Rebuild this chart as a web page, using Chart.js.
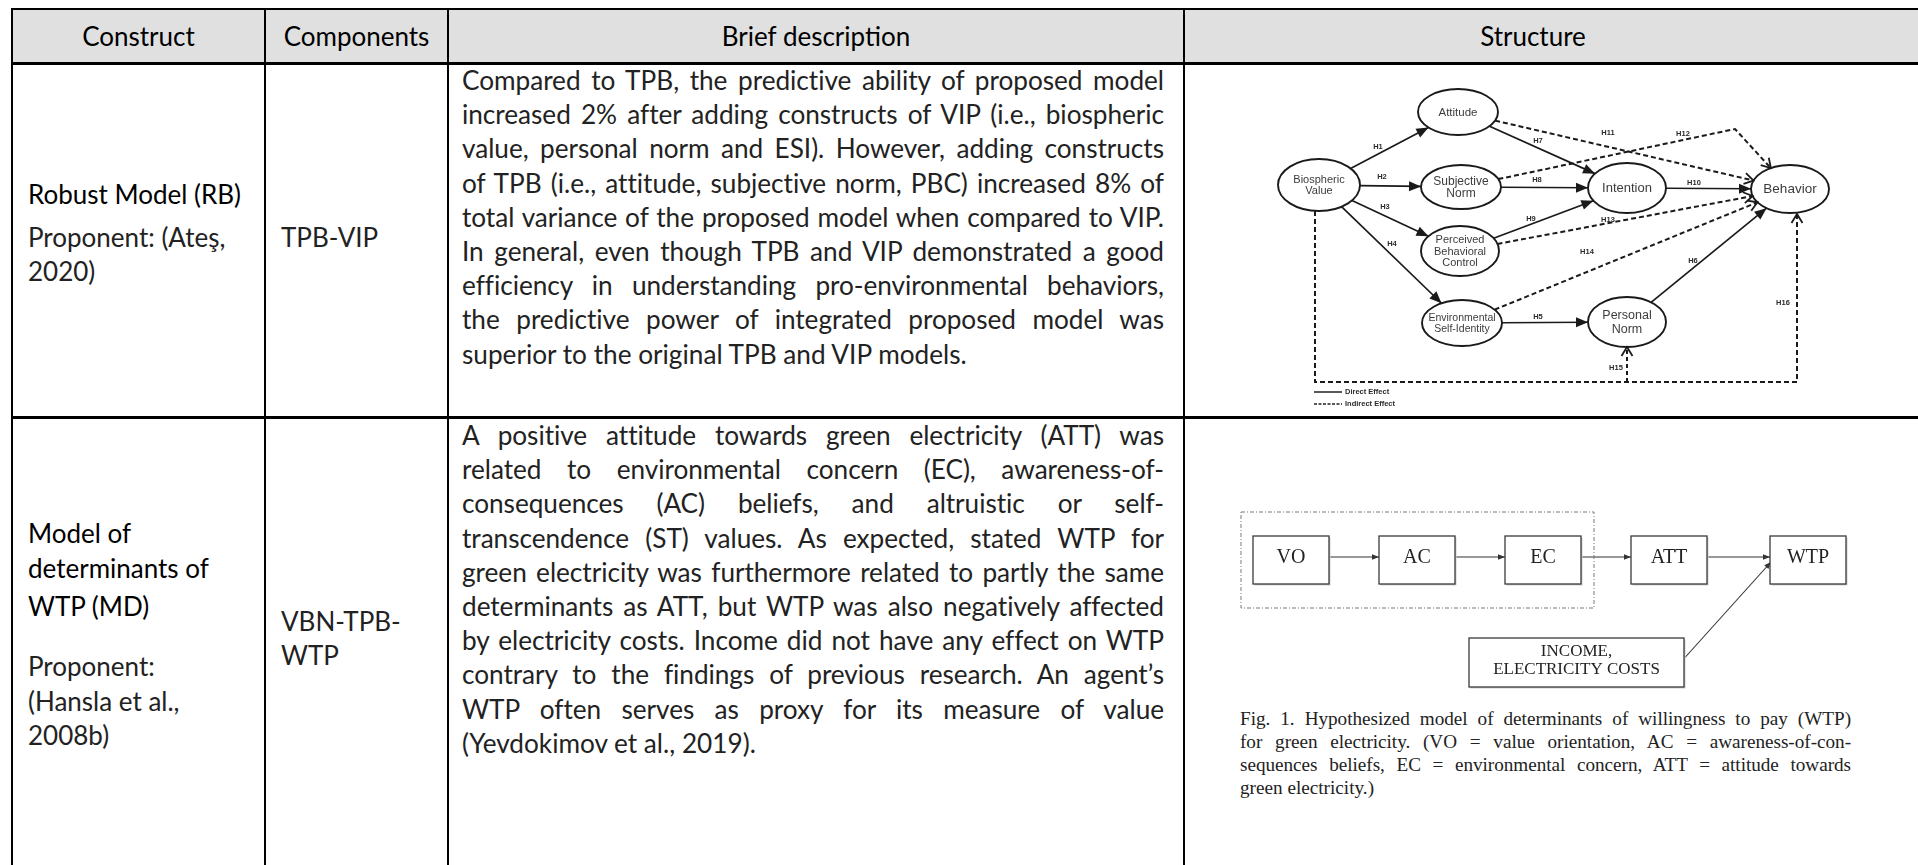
<!DOCTYPE html>
<html lang="en">
<head>
<meta charset="utf-8">
<title>Constructs</title>
<script src="https://cdn.jsdelivr.net/npm/chart.js"></script>
<style>
  html, body { margin: 0; padding: 0; background: #fff; }
  body { width: 1918px; height: 865px; overflow: hidden; position: relative; font-family: Lato, "Open Sans", sans-serif; }
  .rule { position: absolute; background: #000; }
  .head { position: absolute; left: 12px; top: 9px; width: 1906px; height: 54px; background: #e0e0e0; }
  .th { position: absolute; top: 9px; height: 54px; line-height: 54px; text-align: center; font-size: 26px; color: #000; }
  .cell { position: absolute; font-size: 26px; line-height: 34.2px; color: #222; white-space: nowrap; }
  .title { color: #000; }
  .para { position: absolute; font-size: 26.2px; line-height: 34.2px; color: #222; }
  .j { text-align: justify; text-align-last: justify; }
  .cap { position: absolute; left: 1240px; top: 707px; width: 611px; font-family: "Liberation Serif", serif; font-size: 19.2px; line-height: 23px; color: #222; }
  canvas { position: absolute; }
</style>
</head>
<body>
<div class="head"></div>

<div class="th" style="left:12px;width:253px">Construct</div>
<div class="th" style="left:265px;width:183px">Components</div>
<div class="th" style="left:448px;width:736px">Brief description</div>
<div class="th" style="left:1184px;width:698px">Structure</div>

<!-- fila 1 -->
<div class="cell title" style="left:28px;top:177px">Robust Model (RB)</div>
<div class="cell" style="left:28px;top:220px">Proponent: (Ateş,</div>
<div class="cell" style="left:28px;top:254px">2020)</div>
<div class="cell" style="left:281px;top:220px">TPB-VIP</div>
<div class="para" style="left:462px;top:63px;width:702px">
  <div class="j"><span>Compared to TPB, the predictive ability of proposed model</span></div>
  <div class="j"><span>increased 2% after adding constructs of VIP (i.e., biospheric</span></div>
  <div class="j"><span>value, personal norm and ESI). However, adding constructs</span></div>
  <div class="j"><span>of TPB (i.e., attitude, subjective norm, PBC) increased 8% of</span></div>
  <div class="j"><span>total variance of the proposed model when compared to VIP.</span></div>
  <div class="j"><span>In general, even though TPB and VIP demonstrated a good</span></div>
  <div class="j"><span>efficiency in understanding pro-environmental behaviors,</span></div>
  <div class="j"><span>the predictive power of integrated proposed model was</span></div>
  <div><span>superior to the original TPB and VIP models.</span></div>
</div>

<!-- fila 2 -->
<div class="cell title" style="left:28px;top:516px">Model of</div>
<div class="cell title" style="left:28px;top:551px">determinants of</div>
<div class="cell title" style="left:28px;top:589px">WTP (MD)</div>
<div class="cell" style="left:28px;top:649px">Proponent:</div>
<div class="cell" style="left:28px;top:684px">(Hansla et al.,</div>
<div class="cell" style="left:28px;top:718px">2008b)</div>
<div class="cell" style="left:281px;top:604px">VBN-TPB-</div>
<div class="cell" style="left:281px;top:638px">WTP</div>
<div class="para" style="left:462px;top:418px;width:702px">
  <div class="j"><span>A positive attitude towards green electricity (ATT) was</span></div>
  <div class="j"><span>related to environmental concern (EC), awareness-of-</span></div>
  <div class="j"><span>consequences (AC) beliefs, and altruistic or self-</span></div>
  <div class="j"><span>transcendence (ST) values. As expected, stated WTP for</span></div>
  <div class="j"><span>green electricity was furthermore related to partly the same</span></div>
  <div class="j"><span>determinants as ATT, but WTP was also negatively affected</span></div>
  <div class="j"><span>by electricity costs. Income did not have any effect on WTP</span></div>
  <div class="j"><span>contrary to the findings of previous research. An agent’s</span></div>
  <div class="j"><span>WTP often serves as proxy for its measure of value</span></div>
  <div><span>(Yevdokimov et al., 2019).</span></div>
</div>

<div class="cap">
  <div class="j"><span>Fig. 1. Hypothesized model of determinants of willingness to pay (WTP)</span></div>
  <div class="j"><span>for green electricity. (VO = value orientation, AC = awareness-of-con-</span></div>
  <div class="j"><span>sequences beliefs, EC = environmental concern, ATT = attitude towards</span></div>
  <div><span>green electricity.)</span></div>
</div>

<!-- bordes de la tabla -->
<div class="rule" style="left:11px;top:8px;width:1907px;height:2px"></div>
<div class="rule" style="left:11px;top:62px;width:1907px;height:3px"></div>
<div class="rule" style="left:11px;top:416px;width:1907px;height:3px"></div>
<div class="rule" style="left:11px;top:8px;width:2px;height:857px"></div>
<div class="rule" style="left:264px;top:8px;width:2px;height:857px"></div>
<div class="rule" style="left:447px;top:8px;width:2px;height:857px"></div>
<div class="rule" style="left:1183px;top:8px;width:2px;height:857px"></div>

<canvas id="rbChart" width="610" height="350" style="left:1250px;top:70px"></canvas>
<canvas id="mdChart" width="640" height="200" style="left:1230px;top:500px"></canvas>

<script>
// Modelo robusto (TPB-VIP): nodos
const rbNodes = [
    ['Biospheric', 'Value'], ['Attitude'], ['Subjective', 'Norm'],
    ['Perceived', 'Behavioral', 'Control'], ['Environmental', 'Self-Identity'],
    ['Intention'], ['Personal', 'Norm'], ['Behavior']
];
const rbNodeX = [1319, 1458, 1461, 1460, 1462, 1627, 1627, 1790];
const rbNodeY = [185, 112, 187, 251, 323, 188, 322, 189];

// Hipótesis H1..H14 (origen -> destino)
const rbPaths = ['H1', 'H2', 'H3', 'H4', 'H5', 'H6', 'H7', 'H8', 'H9', 'H10', 'H11', 'H12', 'H13', 'H14'];
const rbFrom = [0, 0, 0, 0, 4, 6, 1, 2, 3, 5, 1, 2, 3, 4];
const rbTo = [1, 2, 3, 4, 6, 7, 5, 5, 5, 7, 7, 7, 7, 7];
const rbDirect = [true, true, true, true, true, true, true, true, true, true, false, false, false, false];
const rbModerators = ['H15', 'H16'];

// Modelo de determinantes de WTP
const mdBoxes = ['VO', 'AC', 'EC', 'ATT', 'WTP'];
const mdBoxX = [1291, 1417, 1543, 1669, 1808];
const mdBoxY = [560, 560, 560, 560, 560];
const mdIncome = ['INCOME,', 'ELECTRICITY COSTS'];

// Estilos de dibujo (tamaños y posiciones de etiquetas)
const rbStyle = {
    rx: [41, 40, 40, 39, 40, 39, 39, 39],
    ry: [26, 23, 22, 25, 23, 25, 25, 24],
    font: [11, 11.5, 12, 11, 10.5, 13, 12.5, 13.5],
    labelX: [1378, 1382, 1385, 1392, 1538, 1693, 1538, 1537, 1531, 1694, 1608, 1683, 1608, 1587],
    labelY: [147, 177, 207, 244, 317, 261, 141, 180, 219, 183, 133, 134, 220, 252],
    modX: [1616, 1783], modY: [368, 303],
    bend: { x: 1735, y: 129 },
    baseY: 382, h16X: 1797
};
const mdStyle = { w: 76, h: 48, arrowY: 557, incomeX: 1576.5, incomeY: 662.5, incomeW: 215, incomeH: 49 };

/**
 * Punto del borde de la elipse del nodo i en dirección a (tx, ty).
 */
function edgePoint(i, tx, ty) {
    const cx = rbNodeX[i], cy = rbNodeY[i];
    const dx = tx - cx, dy = ty - cy;
    const t = 1 / Math.sqrt((dx / rbStyle.rx[i]) ** 2 + (dy / rbStyle.ry[i]) ** 2);
    return { x: cx + dx * t, y: cy + dy * t };
}

function drawArrow(ctx, x0, y0, x1, y1, kind, color) {
    const a = Math.atan2(y1 - y0, x1 - x0);
    const len = kind === 'solid' ? 12 : kind === 'small' ? 7 : 9;
    const half = kind === 'solid' ? 5 : kind === 'small' ? 2.8 : 5.5;
    const bx = x1 - len * Math.cos(a), by = y1 - len * Math.sin(a);
    const px = -Math.sin(a) * half, py = Math.cos(a) * half;
    ctx.beginPath();
    ctx.moveTo(bx + px, by + py);
    ctx.lineTo(x1, y1);
    ctx.lineTo(bx - px, by - py);
    ctx.setLineDash([]);
    if (kind === 'open') {
        ctx.lineWidth = 1.8; ctx.strokeStyle = color; ctx.stroke();
    } else {
        ctx.closePath(); ctx.fillStyle = color; ctx.fill();
    }
}

function drawText(ctx, lines, x, y, size, family, color, lh) {
    ctx.font = size + 'px ' + family;
    ctx.fillStyle = color;
    ctx.textAlign = 'center';
    ctx.textBaseline = 'middle';
    const step = size * lh;
    const y0 = y - (lines.length - 1) * step / 2;
    lines.forEach((t, k) => ctx.fillText(t, x, y0 + k * step));
}

// Plugin que dibuja nodos, cajas, flechas y etiquetas
const diagramPlugin = {
    id: 'diagram',
    afterDatasetsDraw(chart) {
        const ctx = chart.ctx;
        const sx = chart.scales.x, sy = chart.scales.y;
        chart.data.datasets.forEach((ds, i) => {
            const pts = chart.getDatasetMeta(i).data;
            ctx.save();
            if (ds.shape === 'ellipse') {
                pts.forEach((p, j) => {
                    ctx.beginPath();
                    ctx.ellipse(p.x, p.y, rbStyle.rx[j], rbStyle.ry[j], 0, 0, Math.PI * 2);
                    ctx.fillStyle = '#fff'; ctx.fill();
                    ctx.lineWidth = 1.9; ctx.strokeStyle = '#1a1a1a'; ctx.stroke();
                    drawText(ctx, rbNodes[j], p.x, p.y + 0.5, rbStyle.font[j], '"Liberation Sans", Arial, sans-serif', '#3c3c3c', 1.05);
                });
            }
            if (ds.shape === 'box') {
                pts.forEach((p, j) => {
                    const w = ds.boxW, h = ds.boxH;
                    ctx.fillStyle = '#cfcfcf';
                    ctx.fillRect(p.x - w / 2 + 1.5, p.y - h / 2 + 1.5, w, h);
                    ctx.fillStyle = '#fff';
                    ctx.fillRect(p.x - w / 2, p.y - h / 2, w, h);
                    ctx.lineWidth = 1.3; ctx.strokeStyle = '#3a3a3a';
                    ctx.strokeRect(p.x - w / 2, p.y - h / 2, w, h);
                    drawText(ctx, ds.texts[j], p.x, p.y - 2, ds.fontSize, '"Liberation Serif", "Times New Roman", serif', '#222', 1.05);
                });
            }
            if (ds.arrow) {
                const a = pts[pts.length - 2], b = pts[pts.length - 1];
                drawArrow(ctx, a.x, a.y, b.x, b.y, ds.arrow, ds.borderColor);
            }
            ctx.restore();
        });

        if (chart.canvas.id === 'rbChart') {
            ctx.save();
            ctx.font = 'bold 7.5px "Liberation Sans", Arial, sans-serif';
            ctx.fillStyle = '#2a2a2a';
            ctx.textAlign = 'center';
            ctx.textBaseline = 'middle';
            rbPaths.forEach((h, k) => ctx.fillText(h, sx.getPixelForValue(rbStyle.labelX[k]), sy.getPixelForValue(rbStyle.labelY[k])));
            rbModerators.forEach((h, k) => ctx.fillText(h, sx.getPixelForValue(rbStyle.modX[k]), sy.getPixelForValue(rbStyle.modY[k])));

            // leyenda
            const lx0 = sx.getPixelForValue(1314), lx1 = sx.getPixelForValue(1342);
            const ly0 = sy.getPixelForValue(392), ly1 = sy.getPixelForValue(404);
            ctx.strokeStyle = '#222'; ctx.lineWidth = 1.5;
            ctx.beginPath(); ctx.moveTo(lx0, ly0); ctx.lineTo(lx1, ly0); ctx.stroke();
            ctx.setLineDash([3, 1.5]);
            ctx.beginPath(); ctx.moveTo(lx0, ly1); ctx.lineTo(lx1, ly1); ctx.stroke();
            ctx.setLineDash([]);
            ctx.textAlign = 'left';
            ctx.font = 'bold 7.5px "Liberation Sans", Arial, sans-serif';
            ctx.fillText('Direct Effect', lx1 + 3, ly0);
            ctx.fillText('Indirect Effect', lx1 + 3, ly1);
            ctx.restore();
        }
    }
};

function lineSet(points, opts) {
    return Object.assign({
        data: points,
        showLine: true,
        pointRadius: 0,
        borderColor: '#1a1a1a',
        borderWidth: 1.7,
        borderDash: [],
        tension: 0,
        fill: false,
        clip: false
    }, opts);
}

function makeDiagram(id, box, datasets) {
    const ctx = document.getElementById(id).getContext('2d');
    return new Chart(ctx, {
        type: 'scatter',
        data: { datasets },
        options: {
            responsive: false,
            animation: false,
            devicePixelRatio: 1,
            events: [],
            layout: { padding: 0, autoPadding: false },
            plugins: { legend: { display: false }, tooltip: { enabled: false } },
            scales: {
                x: { type: 'linear', display: false, min: box.x0, max: box.x1 },
                y: { type: 'linear', display: false, min: box.y0, max: box.y1, reverse: true }
            }
        },
        plugins: [diagramPlugin]
    });
}

// ---------- diagrama 1 ----------
const rbSets = [];
rbSets.push({
    data: rbNodeX.map((x, i) => ({ x, y: rbNodeY[i] })),
    pointRadius: 0, showLine: false, shape: 'ellipse'
});
rbPaths.forEach((h, k) => {
    const a = rbFrom[k], b = rbTo[k];
    let pts;
    if (h === 'H12') {
        const bend = rbStyle.bend;
        pts = [edgePoint(a, bend.x, bend.y), bend, edgePoint(b, bend.x, bend.y)];
    } else {
        pts = [edgePoint(a, rbNodeX[b], rbNodeY[b]), edgePoint(b, rbNodeX[a], rbNodeY[a])];
    }
    rbSets.push(lineSet(pts, rbDirect[k]
        ? { borderWidth: 1.7, arrow: 'solid' }
        : { borderWidth: 2, borderDash: [5, 3], arrow: 'open' }));
});
// H15 / H16: valor biosférico como moderador
const bvBottom = rbNodeY[0] + rbStyle.ry[0];
const behBottom = rbNodeY[7] + rbStyle.ry[7] + 1;
const pnBottom = rbNodeY[6] + rbStyle.ry[6];
rbSets.push(lineSet([
    { x: rbNodeX[0] - 4, y: bvBottom },
    { x: rbNodeX[0] - 4, y: rbStyle.baseY },
    { x: rbStyle.h16X, y: rbStyle.baseY },
    { x: rbStyle.h16X, y: behBottom }
], { borderWidth: 2, borderDash: [5, 3], arrow: 'open' }));
rbSets.push(lineSet([
    { x: rbNodeX[6], y: rbStyle.baseY },
    { x: rbNodeX[6], y: pnBottom }
], { borderWidth: 2, borderDash: [4, 3], arrow: 'open' }));

makeDiagram('rbChart', { x0: 1250, x1: 1860, y0: 70, y1: 420 }, rbSets);

// ---------- diagrama 2 ----------
const mdSets = [];
const half = mdStyle.w / 2;
// grupo punteado VO-AC-EC
const gx0 = mdBoxX[0] - half - 12, gx1 = mdBoxX[2] + half + 13;
const gy0 = mdBoxY[0] - mdStyle.h / 2 - 24, gy1 = mdBoxY[0] + mdStyle.h / 2 + 24;
mdSets.push(lineSet([
    { x: gx0, y: gy0 }, { x: gx1, y: gy0 }, { x: gx1, y: gy1 }, { x: gx0, y: gy1 }, { x: gx0, y: gy0 }
], { borderColor: '#7a7a7a', borderWidth: 1, borderDash: [4, 2, 1, 2] }));
for (let k = 0; k < mdBoxes.length - 1; k++) {
    mdSets.push(lineSet([
        { x: mdBoxX[k] + half, y: mdStyle.arrowY },
        { x: mdBoxX[k + 1] - half, y: mdStyle.arrowY }
    ], { borderColor: '#333', borderWidth: 1.2, arrow: 'small' }));
}
mdSets.push(lineSet([
    { x: mdStyle.incomeX + mdStyle.incomeW / 2 + 1, y: mdStyle.incomeY - 5 },
    { x: mdBoxX[4] - half + 1, y: mdStyle.arrowY + 5 }
], { borderColor: '#333', borderWidth: 1.1, arrow: 'small' }));
mdSets.push({
    data: mdBoxX.map((x, i) => ({ x, y: mdBoxY[i] })),
    pointRadius: 0, showLine: false, shape: 'box',
    boxW: mdStyle.w, boxH: mdStyle.h, fontSize: 20, texts: mdBoxes.map(t => [t])
});
mdSets.push({
    data: [{ x: mdStyle.incomeX, y: mdStyle.incomeY }],
    pointRadius: 0, showLine: false, shape: 'box',
    boxW: mdStyle.incomeW, boxH: mdStyle.incomeH, fontSize: 17, texts: [mdIncome]
});

makeDiagram('mdChart', { x0: 1230, x1: 1870, y0: 500, y1: 700 }, mdSets);

// Ajuste de líneas justificadas para que no se partan
function fitLines() {
    document.querySelectorAll('.j').forEach(el => {
        const span = el.firstElementChild;
        el.style.whiteSpace = 'nowrap';
        const target = el.clientWidth;
        const w = span.getBoundingClientRect().width;
        if (w > target - 1) {
            el.style.letterSpacing = ((target - w - 2) / span.textContent.length) + 'px';
        }
        el.style.whiteSpace = 'normal';
    });
}
if (document.fonts && document.fonts.ready) {
    document.fonts.ready.then(fitLines);
} else {
    fitLines();
}
</script>
</body>
</html>
